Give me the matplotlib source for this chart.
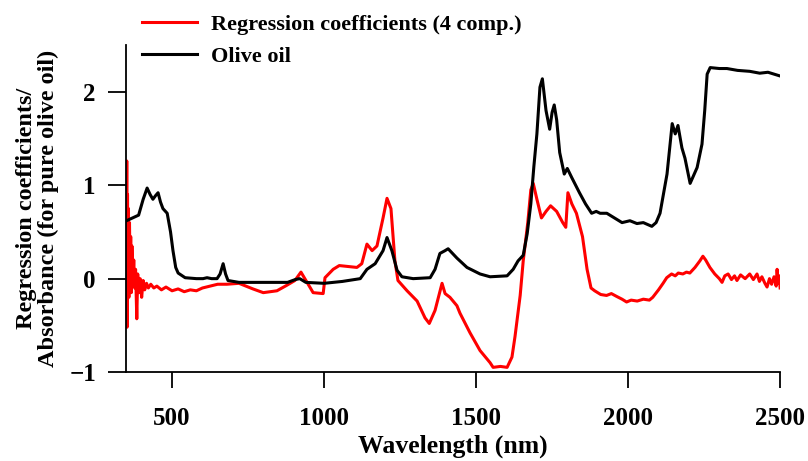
import numpy as np
import matplotlib
matplotlib.use("Agg")
from matplotlib import pyplot as plt

plt.rcParams['font.family'] = ['Liberation Serif', 'DejaVu Serif']
plt.rcParams['font.weight'] = 'bold'

# olive oil absorbance spectrum
wl_oil = [350, 370, 390, 405, 418, 428, 437, 446, 454, 462, 470, 484, 495, 503, 512,
          520, 543, 580, 602, 615, 630, 648, 658, 668, 676, 684, 720, 800, 880, 905,
          920, 940, 1000, 1060, 1119, 1141, 1168, 1194, 1207, 1223, 1240, 1256, 1293,
          1349, 1365, 1381, 1398, 1408, 1437, 1470, 1513, 1546, 1602, 1622, 1638, 1655,
          1668, 1680, 1690, 1700, 1710, 1718, 1730, 1742, 1750, 1757, 1765, 1775, 1790,
          1800, 1815, 1840, 1860, 1880, 1895, 1908, 1930, 1955, 1980, 2006, 2029, 2050,
          2078, 2092, 2105, 2128, 2145, 2155, 2164, 2177, 2187, 2204, 2227, 2243, 2252,
          2260, 2270, 2300, 2325, 2360, 2400, 2433, 2460, 2480, 2500]
oil = [0.62, 0.65, 0.68, 0.85, 0.97, 0.9, 0.85, 0.89, 0.92, 0.82, 0.75, 0.7, 0.5, 0.3,
       0.12, 0.06, 0.01, 0.0, 0.0, 0.01, 0.0, 0.0, 0.05, 0.16, 0.05, -0.02, -0.04, -0.04,
       -0.04, -0.01, 0.0, -0.04, -0.05, -0.03, 0.0, 0.1, 0.16, 0.3, 0.44, 0.3, 0.09,
       0.02, 0.0, 0.01, 0.1, 0.27, 0.3, 0.32, 0.22, 0.12, 0.05, 0.02, 0.03, 0.1, 0.19,
       0.25, 0.48, 0.8, 1.2, 1.55, 2.05, 2.14, 1.8, 1.6, 1.78, 1.86, 1.7, 1.35, 1.12,
       1.18, 1.08, 0.92, 0.8, 0.7, 0.72, 0.7, 0.7, 0.65, 0.6, 0.62, 0.59, 0.6, 0.56,
       0.6, 0.7, 1.12, 1.66, 1.55, 1.64, 1.4, 1.29, 1.02, 1.19, 1.44, 1.8, 2.19, 2.26,
       2.25, 2.25, 2.23, 2.22, 2.2, 2.21, 2.19, 2.17]

# PLS regression coefficients, 4 components
wl_reg = [350, 351, 352, 353.5, 355, 356.5, 358, 360, 362, 364, 366, 368, 371, 374, 377,
          380, 384, 387, 391, 395, 400, 405, 410, 416, 422, 430, 440, 450, 465, 480,
          500, 520, 540, 560, 580, 600, 625, 650, 680, 720, 766, 800, 845, 878, 904,
          924, 944, 964, 997, 1003, 1030, 1050, 1108, 1124, 1141, 1158, 1174, 1194,
          1207, 1220, 1233, 1243, 1273, 1306, 1332, 1346, 1365, 1388, 1398, 1414, 1437,
          1447, 1480, 1513, 1546, 1556, 1580, 1602, 1618, 1628, 1645, 1655, 1670, 1680,
          1688, 1700, 1715, 1730, 1745, 1765, 1785, 1795, 1802, 1815, 1830, 1850, 1865,
          1878, 1890, 1910, 1929, 1945, 1962, 1980, 1995, 2010, 2030, 2050, 2070, 2081,
          2100, 2115, 2127, 2143, 2155, 2165, 2180, 2192, 2203, 2220, 2236, 2246, 2255,
          2269, 2285, 2300, 2309, 2318, 2329, 2340, 2350, 2358, 2370, 2385, 2400, 2412,
          2424, 2432, 2440, 2450, 2457, 2465, 2472, 2480, 2487, 2490, 2494, 2497, 2500]
reg = [0.2, 1.26, -0.52, 0.9, 0.1, 0.75, -0.2, 0.6, 0.05, 0.45, -0.15, 0.35, -0.05, 0.2,
       -0.1, 0.1, -0.43, 0.05, -0.15, 0.0, -0.2, -0.02, -0.12, -0.05, -0.1, -0.06, -0.1,
       -0.08, -0.12, -0.09, -0.13, -0.11, -0.14, -0.12, -0.13, -0.1, -0.08, -0.06, -0.06,
       -0.05, -0.11, -0.15, -0.13, -0.07, -0.02, 0.07, -0.04, -0.15, -0.16, 0.01, 0.1,
       0.14, 0.12, 0.16, 0.37, 0.3, 0.35, 0.65, 0.86, 0.75, 0.19, -0.02, -0.13, -0.24,
       -0.42, -0.48, -0.34, -0.05, -0.16, -0.2, -0.29, -0.37, -0.58, -0.77, -0.9, -0.95,
       -0.94, -0.95, -0.84, -0.62, -0.18, 0.19, 0.6, 0.95, 1.02, 0.85, 0.65, 0.72, 0.78,
       0.72, 0.6, 0.55, 0.92, 0.8, 0.7, 0.45, 0.1, -0.1, -0.13, -0.17, -0.18, -0.16,
       -0.19, -0.22, -0.25, -0.23, -0.24, -0.22, -0.23, -0.2, -0.12, -0.05, 0.01, 0.05,
       0.03, 0.06, 0.05, 0.07, 0.06, 0.12, 0.19, 0.24, 0.2, 0.12, 0.05, 0.0, -0.04, 0.03,
       0.05, -0.01, 0.03, -0.02, 0.04, 0.0, 0.05, -0.01, 0.05, -0.03, 0.02, -0.05, -0.09,
       0.0, -0.06, 0.02, -0.08, 0.1, -0.05, 0.03, -0.1]

xticks = [500, 1000, 1500, 2000, 2500]
yticks = [-1, 0, 1, 2]

fig = plt.figure(figsize=(8.08, 4.61), dpi=100)
ax = fig.add_axes([0.1565, 0.193, 0.809, 0.709])

ax.plot(wl_reg, reg, color='red', lw=2.2, label='Regression coefficients (4 comp.)')
ax.plot(wl_oil, oil, color='black', lw=2.2, label='Olive oil')

ax.set_xlim(350, 2500)
ax.set_ylim(-1, 2.5)
ax.set_xticks(xticks)
ax.set_yticks(yticks)
for s in ['top', 'right']:
    ax.spines[s].set_visible(False)
for s in ['left', 'bottom']:
    ax.spines[s].set_linewidth(1.3)
ax.tick_params(axis='x', length=11.5, width=1.3, pad=14, labelsize=18)
ax.tick_params(axis='y', length=13, width=1.3, pad=9, labelsize=18)
ax.yaxis.set_major_formatter(matplotlib.ticker.FuncFormatter(
    lambda v, p: ('\u2212%d' % -v) if v < 0 else '%d' % v))

ax.set_xlabel('Wavelength (nm)', fontsize=18.5, fontweight='bold', labelpad=3)
ax.set_ylabel('Regression coefficients/\nAbsorbance (for pure olive oil)', fontsize=17.5,
              fontweight='bold', labelpad=7, linespacing=1.1)

fig.legend(loc='upper left', bbox_to_anchor=(0.151, 1.012), frameon=False, fontsize=16,
           handlelength=2.48, labelspacing=0.5, handletextpad=0.63)

fig.savefig('out.png', dpi=100)
